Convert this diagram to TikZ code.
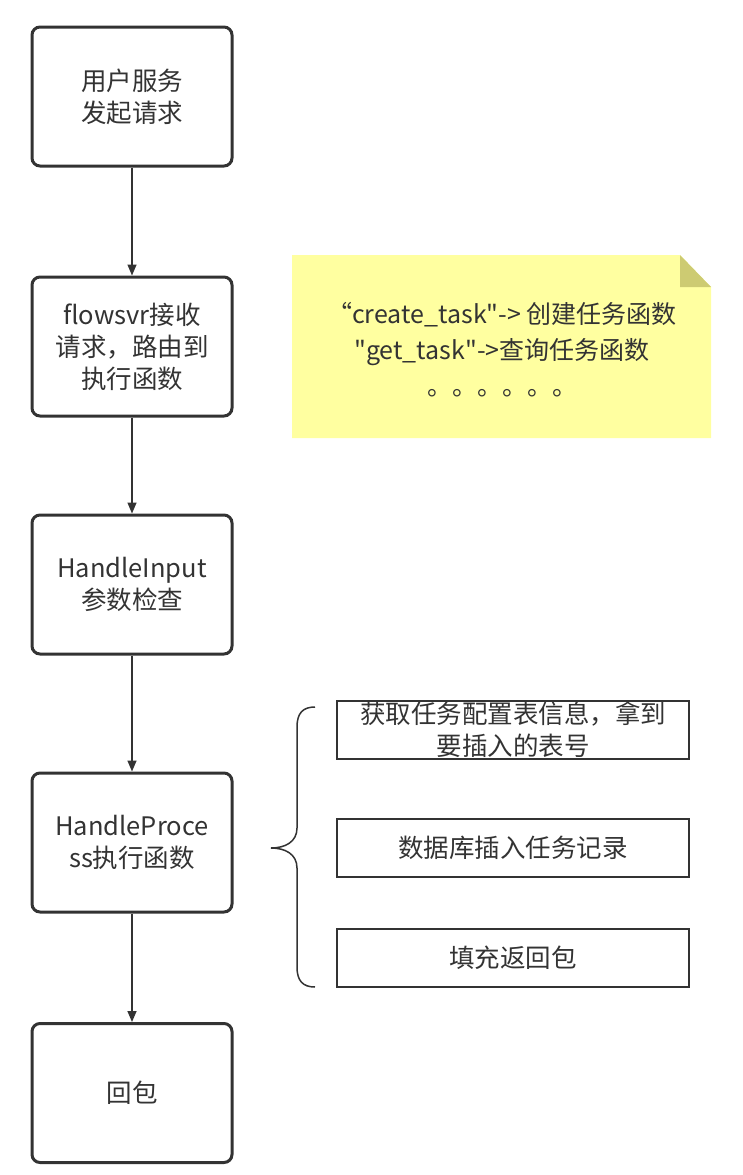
\documentclass[tikz,border=0pt]{standalone}
\usepackage{fontspec}
\setmainfont[Mapping=]{Noto Sans CJK SC}
\usetikzlibrary{arrows.meta}
\definecolor{ink}{HTML}{333333}
\definecolor{notefill}{HTML}{FFFFA0}
\definecolor{notefold}{HTML}{CDCB72}
\tikzset{
  mainbox/.style={draw=ink, line width=3pt, rounded corners=8pt, fill=white,
    minimum width=200pt, minimum height=139pt, align=center, text=ink,
    font=\fontsize{25.5}{32}\selectfont, inner sep=2pt},
  subbox/.style={draw=ink, line width=1.5pt, minimum width=352pt, minimum height=58pt,
    align=center, text=ink, font=\fontsize{25.5}{32}\selectfont, inner sep=0pt},
  flow/.style={draw=ink, line width=1.5pt, -{Triangle[length=11pt,width=9pt]}},
}
\begin{document}
\begin{tikzpicture}[x=1pt,y=-1pt]
\useasboundingbox (0,0) rectangle (743,1175);
% main flow
\node[mainbox] (n1) at (132,96.5) {用户服务\\发起请求};
\node[mainbox] (n2) at (132,346.5) {flowsvr接收\\请求，路由到\\执行函数};
\node[mainbox] (n3) at (132,584.5) {HandleInput\\参数检查};
\node[mainbox] (n4) at (132,842.5) {HandleProce\\ss执行函数};
\node[mainbox] (n5) at (132,1093) {回包};
\draw[flow] (n1) -- (n2);
\draw[flow] (n2) -- (n3);
\draw[flow] (n3) -- (n4);
\draw[flow] (n4) -- (n5);
% note
\fill[notefill] (292,255) -- (680,255) -- (711,287) -- (711,438) -- (292,438) -- cycle;
\fill[notefold] (680,255) -- (711,287) -- (680,287) -- cycle;
\node[text=ink, font=\fontsize{25}{36}\selectfont, align=center, inner sep=0pt] (note) at (502,350)
  {“create\_task\char34->~创建任务函数\\\char34get\_task\char34->查询任务函数\\。。。。。。};
% sub boxes
\node[subbox] (s1) at (513,730) {获取任务配置表信息，拿到\\要插入的表号};
\node[subbox] (s2) at (513,848) {数据库插入任务记录};
\node[subbox] (s3) at (513,958) {填充返回包};
% brace
\coordinate (bt) at (315,707);
\coordinate (tip) at (271,848);
\coordinate (bb) at (315,987);
\draw[ink, line width=1.5pt] (bt) .. controls (303,707) and (297,713) .. (297,727)
  -- (297,828) .. controls (297,842) and (285,848) .. (tip)
  .. controls (285,848) and (297,854) .. (297,868)
  -- (297,967) .. controls (297,981) and (303,987) .. (bb);
\end{tikzpicture}
\end{document}
